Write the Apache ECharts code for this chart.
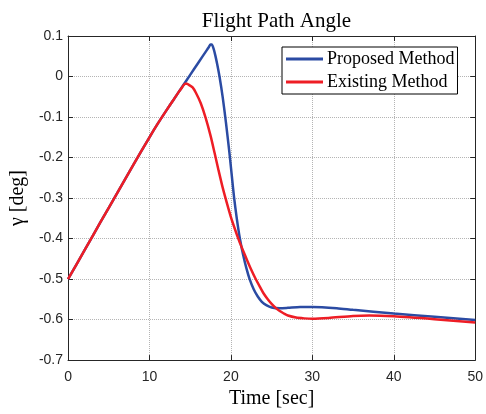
<!DOCTYPE html>
<html>
<head>
<meta charset="utf-8">
<script src="https://cdn.jsdelivr.net/npm/echarts@6/dist/echarts.min.js"></script>
<style>
  html, body { margin: 0; padding: 0; background: #fff; }
  #chart { width: 486px; height: 414px; }
</style>
</head>
<body>
<div id="chart"></div>
<script>
// Flight path angle history, gamma [deg] against time [sec]
const proposedTime = [0, 2, 4, 6, 8, 10, 11, 12, 13, 14, 15, 16, 17, 17.3, 17.5, 17.65, 17.9, 18.1, 18.3, 18.6, 19.0, 19.4, 19.8, 20.1, 20.4, 20.7, 21.1, 21.5, 21.9, 22.3, 22.8, 23.3, 23.8, 24.4, 25.0, 26.0, 27.0, 28.5, 30, 33, 35, 40, 45, 50];
const proposedGamma = [-0.500, -0.430, -0.359, -0.289, -0.219, -0.150, -0.117, -0.086, -0.056, -0.026, 0.004, 0.034, 0.064, 0.073, 0.079, 0.079, 0.067, 0.051, 0.032, 0.000, -0.052, -0.115, -0.185, -0.243, -0.300, -0.347, -0.400, -0.440, -0.473, -0.500, -0.525, -0.543, -0.556, -0.565, -0.570, -0.572, -0.571, -0.569, -0.569, -0.572, -0.576, -0.585, -0.593, -0.601];

const existingTime = [0, 2, 4, 6, 8, 10, 11, 12, 13, 13.6, 14.0, 14.2, 14.4, 14.6, 14.8, 15.3, 15.7, 16.3, 16.9, 17.5, 18.0, 18.5, 19.0, 19.5, 20.0, 20.5, 21.0, 21.5, 22.0, 22.5, 23.0, 23.5, 24.0, 24.5, 25.0, 25.5, 26.0, 26.5, 27.0, 28.0, 29.0, 30, 32, 35, 37, 40, 45, 50];
const existingGamma = [-0.500, -0.430, -0.359, -0.289, -0.219, -0.150, -0.117, -0.086, -0.056, -0.038, -0.027, -0.021, -0.018, -0.018, -0.020, -0.027, -0.040, -0.066, -0.102, -0.146, -0.189, -0.233, -0.275, -0.312, -0.347, -0.377, -0.405, -0.430, -0.454, -0.477, -0.498, -0.517, -0.535, -0.549, -0.561, -0.571, -0.579, -0.585, -0.590, -0.595, -0.597, -0.598, -0.596, -0.591, -0.590, -0.592, -0.599, -0.607];

const seriesNames = ['Proposed Method', 'Existing Method'];
const seriesColors = ['#2B4BA3', '#EE1D25'];

const xTicks = { min: 0, max: 50, step: 10 };
const yTicks = { min: -0.7, max: 0.1, step: 0.1 };

const pairs = (t, v) => t.map((x, i) => [x, v[i]]);

const sansFont = '"Liberation Sans", Arial, sans-serif';
const serifFont = '"Liberation Serif", "Times New Roman", serif';
const axisColor = '#262626';

const gridLine = { show: true, lineStyle: { color: '#b4b4b4', width: 1, type: [1, 1] } };

function frameAxis(base, extra) {
  return Object.assign({
    axisLine: { show: true, onZero: false, lineStyle: { color: axisColor, width: 1 } },
    axisTick: { show: true, inside: true, length: 5, lineStyle: { color: axisColor } },
  }, base, extra);
}

const chart = echarts.init(document.getElementById('chart'), null, { renderer: 'canvas' });

chart.setOption({
  animation: false,
  backgroundColor: '#ffffff',
  title: {
    text: 'Flight Path Angle',
    left: 271.5, top: 6, textAlign: 'center',
    textStyle: { fontFamily: serifFont, fontSize: 21, fontWeight: 'normal', color: '#000' }
  },
  grid: { left: 66, right: 9, top: 36, bottom: 52, containLabel: false },
  legend: {
    orient: 'vertical',
    left: 282, top: 47,
    padding: [2, 3, 2, 4],
    itemWidth: 37, itemHeight: 3,
    itemGap: 3,
    borderColor: '#000', borderWidth: 1,
    backgroundColor: '#fff',
    icon: 'rect',
    textStyle: { fontFamily: serifFont, fontSize: 18, color: '#000', lineHeight: 20, padding: [0, 0, 0, -1] },
    data: seriesNames
  },
  xAxis: [
    frameAxis({
      type: 'value', position: 'bottom',
      min: xTicks.min, max: xTicks.max, interval: xTicks.step,
      name: 'Time [sec]', nameLocation: 'middle', nameGap: 27,
      nameTextStyle: { fontFamily: serifFont, fontSize: 20, color: '#000' },
      axisLabel: { fontFamily: sansFont, fontSize: 14, color: axisColor, margin: 10 },
      splitLine: gridLine
    }),
    frameAxis({
      type: 'value', position: 'top',
      min: xTicks.min, max: xTicks.max, interval: xTicks.step,
      axisLabel: { show: false }, splitLine: { show: false }
    })
  ],
  yAxis: [
    frameAxis({
      type: 'value', position: 'left',
      min: yTicks.min, max: yTicks.max, interval: yTicks.step,
      name: 'γ [deg]', nameLocation: 'middle', nameGap: 38,
      nameTextStyle: { fontFamily: serifFont, fontSize: 20, color: '#000' },
      axisLabel: {
        fontFamily: sansFont, fontSize: 14, color: axisColor, margin: 5,
        formatter: v => String(parseFloat(v.toFixed(1)) || 0)
      },
      splitLine: gridLine
    }),
    frameAxis({
      type: 'value', position: 'right',
      min: yTicks.min, max: yTicks.max, interval: yTicks.step,
      axisLabel: { show: false }, splitLine: { show: false }
    })
  ],
  series: [
    {
      name: seriesNames[0], type: 'line',
      data: pairs(proposedTime, proposedGamma),
      showSymbol: false, smooth: 0.25,
      lineStyle: { color: seriesColors[0], width: 2.5 },
      itemStyle: { color: seriesColors[0] },
      z: 3
    },
    {
      name: seriesNames[1], type: 'line',
      data: pairs(existingTime, existingGamma),
      showSymbol: false, smooth: 0.25,
      lineStyle: { color: seriesColors[1], width: 2.5 },
      itemStyle: { color: seriesColors[1] },
      z: 4
    }
  ]
});
</script>
</body>
</html>
